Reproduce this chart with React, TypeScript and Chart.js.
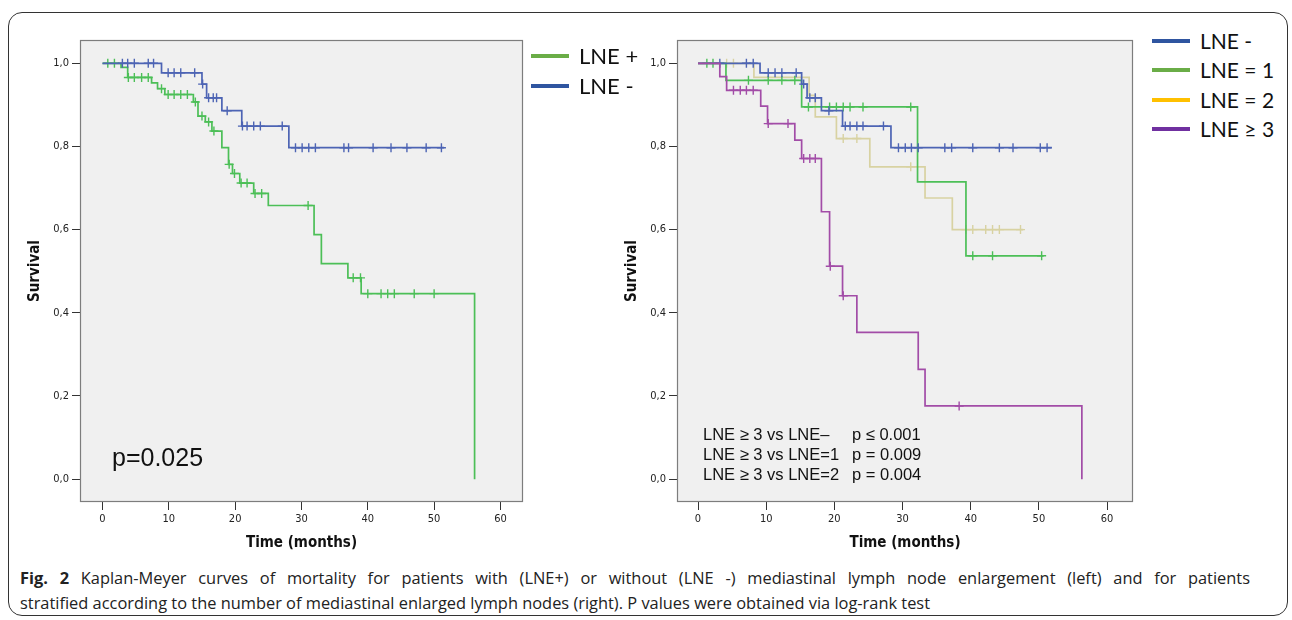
import React, { useEffect, useRef } from 'react';
import { Chart, registerables } from 'chart.js';

Chart.register(...registerables);

// ---------- axis ticks ----------
const X_TICKS = [0, 10, 20, 30, 40, 50, 60];
const Y_TICKS = [0, 0.2, 0.4, 0.6, 0.8, 1.0];
const Y_TICK_LABELS = ['0,0', '0,2', '0,4', '0,6', '0,8', '1,0'];

// ---------- left panel: LNE + ----------
const L_POS_TIMES = [0, 2.8, 3.8, 7.4, 8.3, 9.4, 13.7, 14.4, 15.5, 16.5, 18.0, 19.0, 19.6, 20.7, 22.8, 25.0, 31.9, 33.0, 37.0, 39.0, 56.1];
const L_POS_SURV = [1.0, 0.99, 0.966, 0.953, 0.939, 0.925, 0.907, 0.873, 0.859, 0.837, 0.797, 0.757, 0.735, 0.712, 0.687, 0.658, 0.588, 0.518, 0.484, 0.446, 0.0];
const L_POS_CENSORED = [0.8, 1.8, 3.9, 4.8, 5.9, 6.9, 8.9, 9.9, 10.8, 11.8, 12.8, 14.0, 15.0, 16.0, 16.8, 19.1, 19.9, 20.9, 21.8, 23.0, 24.0, 31.0, 37.8, 38.9, 40.0, 42.0, 43.0, 44.0, 47.0, 50.0];

// ---------- left panel: LNE - ----------
const L_NEG_TIMES = [0, 8.9, 15.0, 15.7, 18.0, 21.0, 28.1, 51.5];
const L_NEG_SURV = [1.0, 0.977, 0.95, 0.917, 0.886, 0.849, 0.797, 0.797];
const L_NEG_CENSORED = [3.0, 3.8, 4.8, 6.9, 7.7, 9.9, 10.8, 11.8, 13.9, 15.1, 16.0, 16.7, 17.2, 18.8, 21.1, 21.8, 22.8, 23.8, 27.1, 29.1, 30.1, 31.1, 32.1, 36.4, 37.1, 40.8, 43.5, 45.9, 48.8, 51.1];

// ---------- right panel ----------
const R_NEG_TIMES = [0, 9.1, 15.2, 16.0, 18.1, 21.2, 28.3, 51.9];
const R_NEG_SURV = [1.0, 0.977, 0.95, 0.917, 0.886, 0.849, 0.797, 0.797];
const R_NEG_CENSORED = [3.2, 7.1, 8.1, 10.3, 11.3, 12.3, 14.4, 15.5, 16.4, 17.2, 19.2, 21.6, 22.3, 23.3, 24.2, 27.2, 29.4, 30.4, 31.3, 32.3, 36.2, 37.2, 40.3, 44.2, 46.2, 50.2, 51.2];

const R_ONE_TIMES = [0, 4.1, 15.2, 32.2, 39.3, 50.7];
const R_ONE_SURV = [1.0, 0.959, 0.895, 0.715, 0.537, 0.537];
const R_ONE_CENSORED = [1.3, 2.2, 7.4, 10.3, 12.3, 14.2, 16.2, 19.3, 20.3, 21.3, 22.3, 24.2, 31.2, 40.3, 43.2, 50.4];

const R_TWO_TIMES = [0, 8.2, 16.3, 17.2, 20.3, 25.2, 33.3, 37.3, 47.7];
const R_TWO_SURV = [1.0, 0.966, 0.923, 0.871, 0.819, 0.751, 0.676, 0.6, 0.6];
const R_TWO_CENSORED = [4.2, 5.2, 21.3, 23.3, 31.2, 39.3, 40.3, 42.2, 43.2, 44.2, 47.3];

const R_THREE_TIMES = [0, 3.2, 4.2, 9.2, 10.2, 14.2, 15.2, 18.1, 19.3, 21.2, 23.3, 32.3, 33.3, 56.3];
const R_THREE_SURV = [1.0, 0.968, 0.935, 0.897, 0.855, 0.815, 0.771, 0.643, 0.512, 0.441, 0.353, 0.264, 0.176, 0.0];
const R_THREE_CENSORED = [5.2, 6.2, 7.1, 8.1, 10.3, 13.2, 15.5, 16.4, 17.2, 19.4, 21.3, 38.3];

const LEFT_LEGEND = ['LNE +', 'LNE -'];
const RIGHT_LEGEND = ['LNE -', 'LNE = 1', 'LNE = 2', 'LNE \u2265 3'];

// ---------- styles ----------
const C_BLUE = '#4d64b4';
const C_GREEN = '#4cbf57';
const C_YELLOW = '#d8d2a2';
const C_PURPLE = '#a24ca7';

type Series = { times: number[]; surv: number[]; censored: number[]; color: string };

function survAt(times: number[], surv: number[], t: number) {
  let v = surv[0];
  for (let i = 0; i < times.length; i++) if (times[i] <= t) v = surv[i];
  return v;
}

const framePlugin = {
  id: 'kmFrame',
  beforeDraw(chart: any) {
    const { ctx, chartArea: a } = chart;
    ctx.save();
    ctx.fillStyle = '#f0f0f0';
    ctx.fillRect(a.left, a.top, a.right - a.left, a.bottom - a.top);
    ctx.restore();
  },
  beforeDatasetsDraw(chart: any) {
    const { ctx, chartArea: a } = chart;
    ctx.save();
    ctx.strokeStyle = '#7d7d7d';
    ctx.lineWidth = 1.2;
    ctx.strokeRect(a.left + 0.5, a.top + 0.5, a.right - a.left - 1, a.bottom - a.top - 1);
    ctx.restore();
  },
};

function buildChart(
  canvas: HTMLCanvasElement,
  series: Series[],
  cfg: { xMin: number; xMax: number; yWidth: number; xHeight: number; padTop: number; padRight: number; yTitlePad: number }
) {
  const datasets: any[] = [];
  series.forEach((s) => {
    datasets.push({
      type: 'scatter',
      data: s.censored.map((t) => ({ x: t, y: survAt(s.times, s.surv, t) })),
      pointStyle: 'cross',
      pointRadius: 4.5,
      borderColor: s.color,
      borderWidth: 1.4,
      backgroundColor: s.color,
    });
    datasets.push({
      type: 'line',
      data: s.times.map((t, i) => ({ x: t, y: s.surv[i] })),
      stepped: 'before',
      borderColor: s.color,
      borderWidth: 1.7,
      pointRadius: 0,
      fill: false,
    });
  });
  return new Chart(canvas, {
    type: 'scatter',
    data: { datasets },
    plugins: [framePlugin],
    options: {
      responsive: false,
      animation: false,
      events: [],
      devicePixelRatio: 1,
      layout: { padding: { top: cfg.padTop, right: cfg.padRight, left: 0, bottom: 0 } },
      plugins: { legend: { display: false }, tooltip: { enabled: false } },
      scales: {
        x: {
          type: 'linear',
          min: cfg.xMin,
          max: cfg.xMax,
          afterBuildTicks: (s: any) => {
            s.ticks = X_TICKS.map((v) => ({ value: v }));
          },
          afterFit: (s: any) => {
            s.height = cfg.xHeight;
          },
          grid: { display: true, drawOnChartArea: false, drawTicks: true, tickLength: 8, color: '#333', lineWidth: 1 },
          border: { display: false },
          ticks: {
            font: { family: 'DejaVu Sans Condensed', size: 11 },
            color: '#222',
            padding: 3,
            maxRotation: 0,
            autoSkip: false,
          },
          title: {
            display: true,
            text: 'Time (months)',
            font: { family: 'DejaVu Sans Condensed', size: 15, weight: 'bold' },
            color: '#111',
            padding: { top: 0, bottom: 8 },
          },
        },
        y: {
          type: 'linear',
          min: -0.055,
          max: 1.056,
          afterBuildTicks: (s: any) => {
            s.ticks = Y_TICKS.map((v) => ({ value: v }));
          },
          afterFit: (s: any) => {
            s.width = cfg.yWidth;
          },
          grid: { display: true, drawOnChartArea: false, drawTicks: true, tickLength: 8, color: '#333', lineWidth: 1 },
          border: { display: false },
          ticks: {
            font: { family: 'DejaVu Sans Condensed', size: 11 },
            color: '#222',
            padding: 3,
            autoSkip: false,
            callback: (_v: any, i: number) => Y_TICK_LABELS[i],
          },
          title: {
            display: true,
            text: 'Survival',
            font: { family: 'DejaVu Sans Condensed', size: 15, weight: 'bold' },
            color: '#111',
            padding: { top: cfg.yTitlePad, bottom: 0 },
          },
        },
      },
    } as any,
  });
}

const legendRow = (color: string, label: string, x: number, y: number, size: number, key: string) => (
  <div key={key} style={{ position: 'absolute', left: x, top: y - 15, height: 30, display: 'flex', alignItems: 'center' }}>
    <div style={{ width: 38, height: 4, background: color, marginRight: 10 }} />
    <span style={{ fontFamily: 'Lato, sans-serif', fontSize: size, color: '#111', lineHeight: '30px' }}>{label}</span>
  </div>
);

export default function App() {
  const leftRef = useRef<HTMLCanvasElement>(null);
  const rightRef = useRef<HTMLCanvasElement>(null);

  useEffect(() => {
    const left = buildChart(
      leftRef.current!,
      [
        { times: L_NEG_TIMES, surv: L_NEG_SURV, censored: L_NEG_CENSORED, color: C_BLUE },
        { times: L_POS_TIMES, surv: L_POS_SURV, censored: L_POS_CENSORED, color: C_GREEN },
      ],
      { xMin: -3.39, xMax: 63.4, yWidth: 80, xHeight: 58, padTop: 40, padRight: 17, yTitlePad: 26 }
    );
    const right = buildChart(
      rightRef.current!,
      [
        { times: R_THREE_TIMES, surv: R_THREE_SURV, censored: R_THREE_CENSORED, color: C_PURPLE },
        { times: R_NEG_TIMES, surv: R_NEG_SURV, censored: R_NEG_CENSORED, color: C_BLUE },
        { times: R_ONE_TIMES, surv: R_ONE_SURV, censored: R_ONE_CENSORED, color: C_GREEN },
        { times: R_TWO_TIMES, surv: R_TWO_SURV, censored: R_TWO_CENSORED, color: C_YELLOW },
      ],
      { xMin: -3.08, xMax: 63.8, yWidth: 87, xHeight: 58, padTop: 40, padRight: 17, yTitlePad: 33 }
    );
    return () => {
      left.destroy();
      right.destroy();
    };
  }, []);

  const rightLegendColors = ['#2f55a0', '#6aad47', '#ffc000', '#7030a0'];

  return (
    <div style={{ position: 'fixed', left: 0, top: 0, width: 1292, height: 620, background: '#fff', overflow: 'hidden' }}>
      <div
        style={{
          position: 'absolute',
          left: 8,
          top: 12,
          width: 1278,
          height: 602,
          border: '1.5px solid #333',
          borderRadius: 14,
        }}
      />
      <canvas ref={leftRef} width={540} height={560} style={{ position: 'absolute', left: 0, top: 0, width: 540, height: 560 }} />
      <canvas ref={rightRef} width={560} height={560} style={{ position: 'absolute', left: 590, top: 0, width: 560, height: 560 }} />

      {LEFT_LEGEND.map((l, i) => legendRow(i === 0 ? '#6aad47' : '#2f55a0', l, 531, 56 + i * 29.5, 22, 'll' + i))}
      {RIGHT_LEGEND.map((l, i) => legendRow(rightLegendColors[i], l, 1152, 41 + i * 29.3, 21, 'rl' + i))}

      <div style={{ position: 'absolute', left: 112, top: 445, fontFamily: '"Liberation Sans", Arial, sans-serif', fontSize: 25, lineHeight: '25px', color: '#111' }}>
        p=0.025
      </div>

      {[
        ['LNE \u2265 3 vs LNE\u2013', 'p \u2264 0.001'],
        ['LNE \u2265 3 vs LNE=1', 'p = 0.009'],
        ['LNE \u2265 3 vs LNE=2', 'p = 0.004'],
      ].map((row, i) => (
        <div key={'ann' + i} style={{ position: 'absolute', left: 703, top: 424 + i * 20, height: 20, fontFamily: '"Liberation Sans", Arial, sans-serif', fontSize: 16.5, lineHeight: '20px', color: '#111', whiteSpace: 'nowrap' }}>
          <span>{row[0]}</span>
          <span style={{ position: 'absolute', left: 149 }}>{row[1]}</span>
        </div>
      ))}

      <div style={{ position: 'absolute', left: 20, top: 565, width: 1230, fontFamily: '"Open Sans", sans-serif', fontSize: 16.4, lineHeight: '25px', color: '#222' }}>
        <div style={{ whiteSpace: 'nowrap', textAlign: 'justify', textAlignLast: 'justify' as any }}>
          <b>Fig. 2</b> Kaplan-Meyer curves of mortality for patients with (LNE+) or without (LNE -) mediastinal lymph node enlargement (left) and for patients
        </div>
        <div style={{ whiteSpace: 'nowrap' }}>
          stratified according to the number of mediastinal enlarged lymph nodes (right). P values were obtained via log-rank test
        </div>
      </div>
    </div>
  );
}
